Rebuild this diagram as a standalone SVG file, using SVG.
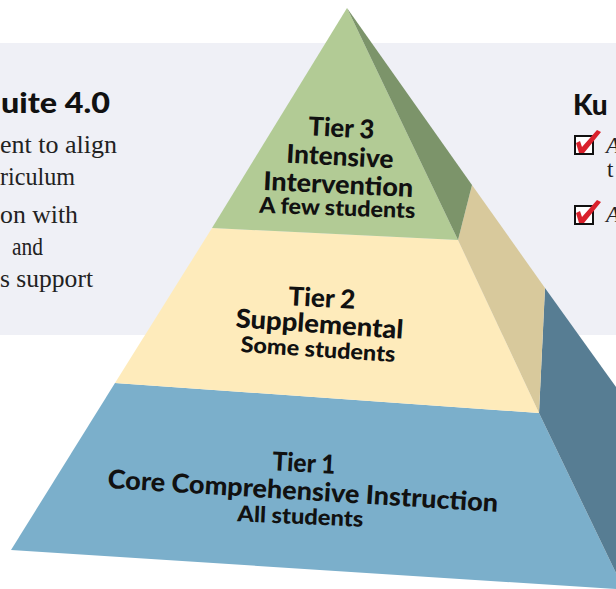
<svg xmlns="http://www.w3.org/2000/svg" width="616" height="589" viewBox="0 0 616 589">
<style>
.lbl{font-family:"Lato","Noto Sans","DejaVu Sans",sans-serif;font-weight:900;fill:#111;text-anchor:middle}
.big{font-size:26px}
.sm{font-size:22px}
.ser{font-family:"Liberation Serif","Times New Roman",serif;font-size:25px;fill:#222}
.rs{font-size:23px}
.ttl{font-family:"Lato","Noto Sans",sans-serif;font-weight:900;font-size:28px;fill:#111}
.box{fill:#fff;stroke:#111;stroke-width:2}
.chk{fill:#d9202b}
</style>
<rect width="616" height="589" fill="#ffffff"/>
<g id="panel">
  <rect x="0" y="43" width="616" height="292" fill="#eff0f6"/>
</g>
<g id="left-text">
  <text class="ttl" x="1" y="113" textLength="109" lengthAdjust="spacingAndGlyphs">uite 4.0</text>
  <text class="ser" x="0" y="153" textLength="117" lengthAdjust="spacingAndGlyphs">ent to align</text>
  <text class="ser" x="0" y="185" textLength="75" lengthAdjust="spacingAndGlyphs">riculum</text>
  <text class="ser" x="0" y="223" textLength="78" lengthAdjust="spacingAndGlyphs">on with</text>
  <text class="ser" x="12" y="255" textLength="31" lengthAdjust="spacingAndGlyphs">and</text>
  <text class="ser" x="0" y="287" textLength="93" lengthAdjust="spacingAndGlyphs">s support</text>
</g>
<g id="right-text">
  <text class="ttl" x="573" y="115">Ku</text>
  <rect class="box" x="575" y="136" width="18" height="18"/>
  <path class="chk" d="M576,143 L580,141 L582,147 L597,130 L601,132 L584,153 L579,153 Z"/>
  <text class="ser rs" x="606" y="153" font-style="italic">A</text>
  <text class="ser rs" x="607" y="177">t</text>
  <rect class="box" x="575" y="206" width="18" height="18"/>
  <path class="chk" d="M576,213 L580,211 L582,217 L597,200 L601,202 L584,223 L579,223 Z"/>
  <text class="ser rs" x="606" y="222" font-style="italic">A</text>
</g>
<g id="tier1">
  <polygon points="115,383 539,413 616,573 616,589 11,550" fill="#7bafcb"/>
  <polygon points="545,288 616,387 616,573 539,413" fill="#577d93"/>
  <text class="lbl big" transform="translate(303.5,472) rotate(3)" x="0" y="0" textLength="63" lengthAdjust="spacingAndGlyphs">Tier 1</text>
  <text class="lbl big" transform="translate(302.5,500) rotate(3.5)" x="0" y="0" textLength="391" lengthAdjust="spacingAndGlyphs">Core Comprehensive Instruction</text>
  <text class="lbl sm" transform="translate(300,524) rotate(2.5)" x="0" y="0" textLength="126" lengthAdjust="spacingAndGlyphs">All students</text>
</g>
<g id="tier2">
  <polygon points="212,228 458,240 539,413 115,383" fill="#feebbb"/>
  <polygon points="472,185 545,288 539,413 458,240" fill="#d8c99c"/>
  <text class="lbl big" transform="translate(321.5,307) rotate(3)" x="0" y="0" textLength="67" lengthAdjust="spacingAndGlyphs">Tier 2</text>
  <text class="lbl big" transform="translate(319,333) rotate(4)" x="0" y="0" textLength="168" lengthAdjust="spacingAndGlyphs">Supplemental</text>
  <text class="lbl sm" transform="translate(317.5,357) rotate(3.7)" x="0" y="0" textLength="155" lengthAdjust="spacingAndGlyphs">Some students</text>
</g>
<g id="tier3">
  <polygon points="347,8 458,240 212,228" fill="#b2cb95"/>
  <polygon points="347,8 472,185 458,240" fill="#7c946a"/>
  <text class="lbl big" transform="translate(341,137) rotate(3)" x="0" y="0" textLength="66" lengthAdjust="spacingAndGlyphs">Tier 3</text>
  <text class="lbl big" transform="translate(339.5,165.5) rotate(3)" x="0" y="0" textLength="107" lengthAdjust="spacingAndGlyphs">Intensive</text>
  <text class="lbl big" transform="translate(338,193.5) rotate(2.7)" x="0" y="0" textLength="150" lengthAdjust="spacingAndGlyphs">Intervention</text>
  <text class="lbl sm" transform="translate(337,215.5) rotate(2)" x="0" y="0" textLength="156" lengthAdjust="spacingAndGlyphs">A few students</text>
</g>
<g id="connectors"></g>
</svg>
